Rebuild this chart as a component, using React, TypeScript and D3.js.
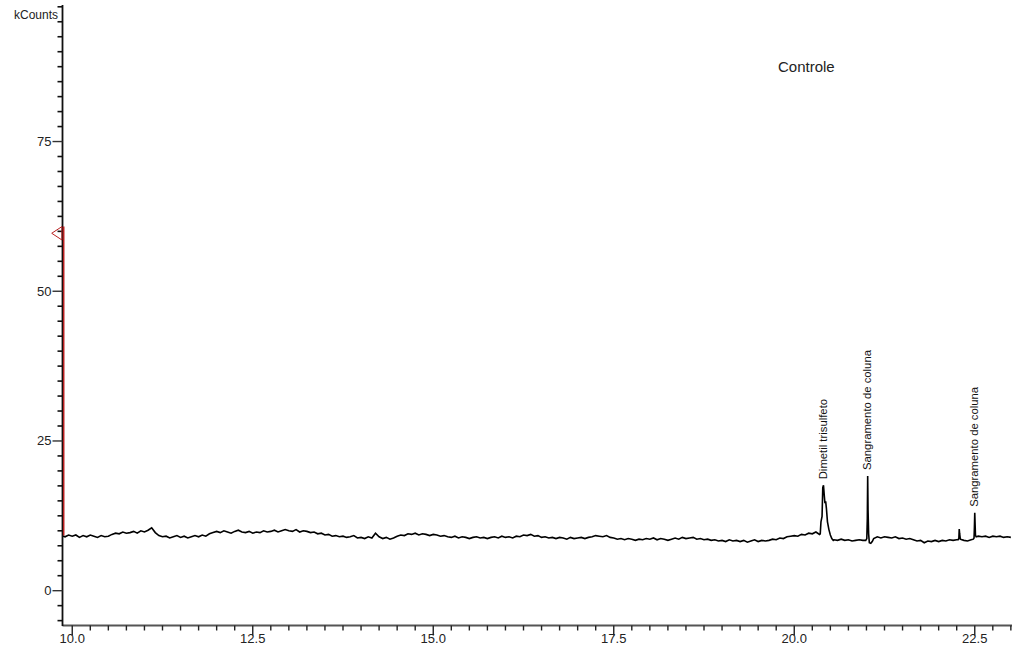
import React from "react";
import * as d3 from "d3";

// ---- data (kCounts vs retention time, minutes) ----
const signalStart = 9.85;
const signalStep = 0.05;
const signal = [
  9.2, 9.0, 9.3,
  // 10
  9.1, 9.3, 8.9, 9.2, 9.0, 9.3, 9.1, 8.9, 9.2, 9.0, 9.1, 9.4, 9.6, 9.5, 9.8, 9.6, 9.7, 9.9, 9.6, 10.0,
  // 11
  9.8, 10.1, 10.5, 9.7, 9.2, 9.0, 9.1, 8.8, 9.0, 9.2, 8.9, 9.1, 8.8, 9.0, 9.2, 9.0, 9.3, 9.1, 9.5, 9.7,
  // 12
  9.9, 9.7, 10.0, 9.8, 9.6, 9.9, 10.1, 9.8, 9.7, 9.9, 9.6, 9.8, 9.7, 10.0, 9.8, 9.9, 10.1, 9.8, 10.0, 10.2,
  // 13
  10.0, 9.9, 10.2, 9.8, 10.0, 9.9, 9.7, 9.8, 9.5, 9.6, 9.3, 9.4, 9.1, 9.2, 9.0, 9.1, 8.9, 9.0, 9.2, 8.8,
  // 14
  8.9, 8.7, 9.0, 8.8, 9.6, 9.0, 8.7, 8.9, 8.6, 8.8, 9.1, 9.3, 9.2, 9.5, 9.4, 9.6, 9.3, 9.5, 9.4, 9.2,
  // 15
  9.4, 9.3, 9.1, 9.2, 9.0, 8.9, 9.1, 8.8, 9.0, 8.9, 8.7, 8.9, 9.0, 8.8, 8.9, 8.7, 8.9, 9.0, 8.8, 9.1,
  // 16
  8.9, 9.0, 8.8, 9.1, 9.0, 9.3, 9.2, 9.4, 9.1, 9.2, 8.9, 9.0, 8.8, 8.9, 8.7, 8.9, 8.8, 8.6, 8.9, 8.7,
  // 17
  8.8, 8.9, 8.7, 8.9, 9.0, 9.2, 9.1, 9.0, 9.2, 8.9, 8.8, 8.6, 8.7, 8.5, 8.7, 8.6, 8.4, 8.6, 8.5, 8.7,
  // 18
  8.6, 8.8, 8.5, 8.7, 8.6, 8.4, 8.6, 8.8, 8.6, 8.9, 8.7, 8.8, 8.9, 8.6, 8.7, 8.5, 8.6, 8.4, 8.5, 8.3,
  // 19
  8.4, 8.2, 8.5, 8.3, 8.4, 8.2, 8.4, 8.1, 8.3, 8.5, 8.2, 8.4, 8.3, 8.4, 8.6, 8.5, 8.8, 8.7, 9.0, 9.1,
  // 20
  9.2, 9.1, 9.4, 9.3, 9.6, 9.5, 9.8, 9.4, 9.2, 9.0, 8.8, 8.5, 8.4, 8.6, 8.4, 8.5, 8.3, 8.4, 8.5, 8.4,
  // 21
  8.5, 8.7, 8.9, 9.0, 8.8, 9.0, 8.9, 8.8, 9.0, 8.7, 8.8, 8.6, 8.7, 8.5, 8.3, 8.4, 8.0, 8.3, 8.2, 8.4,
  // 22
  8.2, 8.4, 8.3, 8.5, 8.4, 8.5, 8.6, 8.4, 8.3, 8.5, 8.9, 9.1, 9.0, 9.1, 8.9, 9.1, 9.0, 9.1, 8.9, 9.0,
  // 23
  8.9,
];

const peak1Times = [20.35, 20.36, 20.37, 20.385, 20.395, 20.405, 20.415, 20.425, 20.435, 20.445, 20.46, 20.48, 20.5, 20.52, 20.54];
const peak1Values = [9.4, 9.5, 11.5, 12.4, 17.2, 17.6, 16.0, 14.6, 14.9, 13.8, 11.5, 10.2, 9.3, 8.7, 8.4];
const peak2Times = [20.99, 21.005, 21.012, 21.017, 21.022, 21.03, 21.04, 21.06, 21.08, 21.1];
const peak2Values = [8.4, 8.7, 12.0, 19.15, 13.5, 9.5, 8.0, 7.9, 8.2, 8.7];
const bumpTimes = [22.27, 22.28, 22.285, 22.29, 22.3];
const bumpValues = [8.5, 8.8, 10.3, 9.6, 8.6];
const peak3Times = [22.48, 22.49, 22.495, 22.5, 22.505, 22.51, 22.52];
const peak3Values = [8.6, 8.8, 10.5, 13.0, 11.0, 9.2, 9.0];

const peakLabels = ["Dimetil trisulfeto", "Sangramento de coluna", "Sangramento de coluna"];
const peakLabelTimes = [20.405, 21.017, 22.5];
const peakLabelApex = [17.6, 19.15, 13.0];

const xMajorTicks = [10.0, 12.5, 15.0, 17.5, 20.0, 22.5];
const yMajorTicks = [0, 25, 50, 75];
const chartTitle = "Controle";
const yUnit = "kCounts";

const markerTime = 9.882;
const markerTop = 60.8;
const markerBottom = 9.2;

const FONT = "'Liberation Sans', Arial, Helvetica, sans-serif";

export default function App() {
  const x = d3.scaleLinear().domain([9.865, 23.02]).range([62.5, 1012.3]);
  const y = d3.scaleLinear().domain([-5.73, 97.8]).range([625, 5]);

  const peaks = [
    { t: peak1Times, v: peak1Values },
    { t: peak2Times, v: peak2Values },
    { t: bumpTimes, v: bumpValues },
    { t: peak3Times, v: peak3Values },
  ];
  const base = signal.map((v, i) => ({ t: signalStart + i * signalStep, v }));
  const filtered = base.filter(
    (p) => !peaks.some((pk) => p.t >= pk.t[0] - 1e-6 && p.t <= pk.t[pk.t.length - 1] + 1e-6)
  );
  const points = [
    ...filtered,
    ...peaks.flatMap((pk) => pk.t.map((t, i) => ({ t, v: pk.v[i] }))),
  ].sort((a, b) => a.t - b.t);

  const line = d3
    .line<{ t: number; v: number }>()
    .x((d) => x(d.t))
    .y((d) => y(d.v));

  const yMinor = d3.range(-5, 97.6, 2.5).filter((v) => !yMajorTicks.some((m) => Math.abs(m - v) < 1e-6));
  const xMinor = d3.range(10, 23.01, 0.25).filter((v) => !xMajorTicks.some((m) => Math.abs(m - v) < 1e-6));

  const ax = 62.5;
  const ay = 625.5;
  const mx = x(markerTime);
  const my = y(markerTop);

  return (
    <svg
      width={1012}
      height={656}
      style={{ position: "absolute", left: 0, top: 0, background: "#fff" }}
      fontFamily={FONT}
    >
      <defs>
        <clipPath id="plot">
          <rect x={63} y={0} width={960} height={625} />
        </clipPath>
      </defs>
      <rect x={0} y={0} width={1012} height={656} fill="#fff" />

      {/* x axis */}
      <line x1={ax} x2={1012} y1={ay} y2={ay} stroke="#555" strokeWidth={2} />
      {xMinor.map((v) => (
        <line key={"xm" + v} x1={x(v)} x2={x(v)} y1={ay} y2={ay + 5} stroke="#222" strokeWidth={1.4} />
      ))}
      {xMajorTicks.map((v) => (
        <g key={"xM" + v}>
          <line x1={x(v)} x2={x(v)} y1={ay} y2={ay + 10} stroke="#222" strokeWidth={1.4} />
          <text x={x(v)} y={643} textAnchor="middle" fontSize={13} fill="#222">
            {v.toFixed(1)}
          </text>
        </g>
      ))}

      {/* y axis */}
      <line x1={ax} x2={ax} y1={5} y2={626} stroke="#111" strokeWidth={1.8} />
      {yMinor.map((v) => (
        <line key={"ym" + v} x1={ax - 5} x2={ax} y1={y(v)} y2={y(v)} stroke="#111" strokeWidth={1.6} />
      ))}
      {yMajorTicks.map((v) => (
        <g key={"yM" + v}>
          <line x1={ax - 10} x2={ax} y1={y(v)} y2={y(v)} stroke="#333" strokeWidth={1.4} />
          <text x={51.5} y={y(v) + 4.5} textAnchor="end" fontSize={13} fill="#222">
            {v}
          </text>
        </g>
      ))}
      <text x={58} y={18.5} textAnchor="end" fontSize={12} fill="#222">
        {yUnit}
      </text>

      {/* trace */}
      <path
        d={line(points) || ""}
        fill="none"
        stroke="#000"
        strokeWidth={1.6}
        strokeLinejoin="miter"
        clipPath="url(#plot)"
      />

      {/* red marker */}
      <line x1={mx} x2={mx} y1={my} y2={y(markerBottom)} stroke="#b82020" strokeWidth={1.5} />
      <polygon
        points={`${mx - 1.8},${my} ${mx - 12},${my + 6.7} ${mx - 1.8},${my + 13.4}`}
        fill="none"
        stroke="#b82020"
        strokeWidth={1}
      />

      {/* peak labels */}
      {peakLabels.map((lab, i) => {
        const px = x(peakLabelTimes[i]) + 3.5;
        const py = y(peakLabelApex[i]) - 6;
        return (
          <text
            key={"pl" + i}
            transform={`translate(${px},${py}) rotate(-90)`}
            fontSize={11.3}
            fill="#111"
          >
            {lab}
          </text>
        );
      })}

      <text x={778} y={72} fontSize={15} fill="#222">
        {chartTitle}
      </text>
    </svg>
  );
}
